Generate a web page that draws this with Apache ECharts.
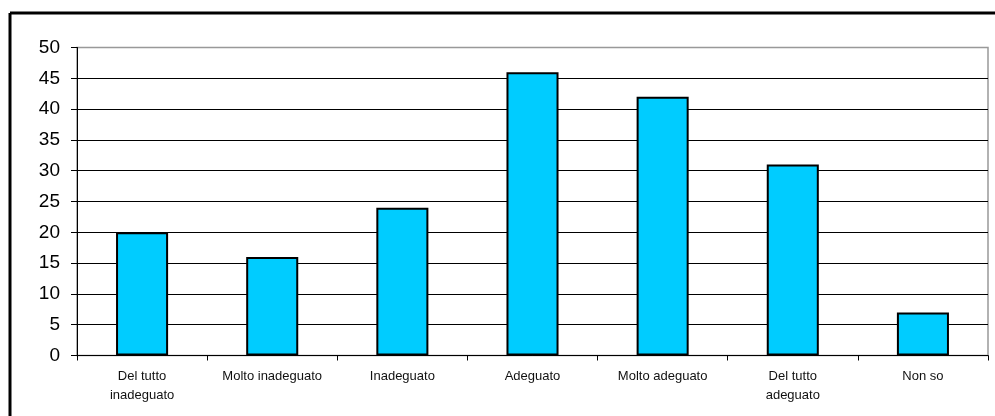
<!DOCTYPE html>
<html>
<head>
<meta charset="utf-8">
<script src="https://cdn.jsdelivr.net/npm/echarts@6/dist/echarts.min.js"></script>
<style>
html,body{margin:0;padding:0;background:#fff;}
#chart{width:995px;height:416px;}
</style>
</head>
<body>
<div id="chart"></div>
<script>
const categories = ["Del tutto\ninadeguato", "Molto inadeguato", "Inadeguato", "Adeguato", "Molto adeguato", "Del tutto\nadeguato", "Non so"];
const values = [20, 16, 24, 46, 42, 31, 7];
const yTicks = [0, 5, 10, 15, 20, 25, 30, 35, 40, 45, 50];

const chart = echarts.init(document.getElementById('chart'), null, {renderer: 'canvas'});
chart.setOption({
  animation: false,
  backgroundColor: '#fff',
  textStyle: {fontFamily: 'Liberation Sans, Arial, sans-serif'},
  graphic: [
    {type: 'line', shape: {x1: 10, y1: 13, x2: 995, y2: 13}, style: {stroke: '#000', lineWidth: 3}, z: 100},
    {type: 'line', shape: {x1: 10, y1: 13, x2: 10, y2: 416}, style: {stroke: '#000', lineWidth: 3}, z: 100}
  ],
  grid: {left: 77, right: 7, top: 47.5, bottom: 60.5, show: true, borderColor: '#999', borderWidth: 1.5, backgroundColor: 'transparent'},
  xAxis: {
    type: 'category',
    data: categories,
    boundaryGap: true,
    axisLine: {lineStyle: {color: '#000', width: 1}},
    axisTick: {show: true, length: 5, lineStyle: {color: '#000'}},
    axisLabel: {color: '#111', fontSize: 13, margin: 11, lineHeight: 19, interval: 0}
  },
  yAxis: {
    type: 'value',
    min: yTicks[0],
    max: yTicks[yTicks.length - 1],
    interval: 5,
    axisLine: {show: true, lineStyle: {color: '#000', width: 1}},
    axisTick: {show: true, length: 6, lineStyle: {color: '#000'}},
    axisLabel: {color: '#000', fontSize: 19, margin: 17},
    splitLine: {show: true, showMaxLine: false, lineStyle: {color: '#000', width: 1}}
  },
  series: [{
    type: 'bar',
    data: values,
    barWidth: '40%',
    itemStyle: {color: '#00CCFF', borderColor: '#000', borderWidth: 2}
  }]
});
</script>
</body>
</html>
